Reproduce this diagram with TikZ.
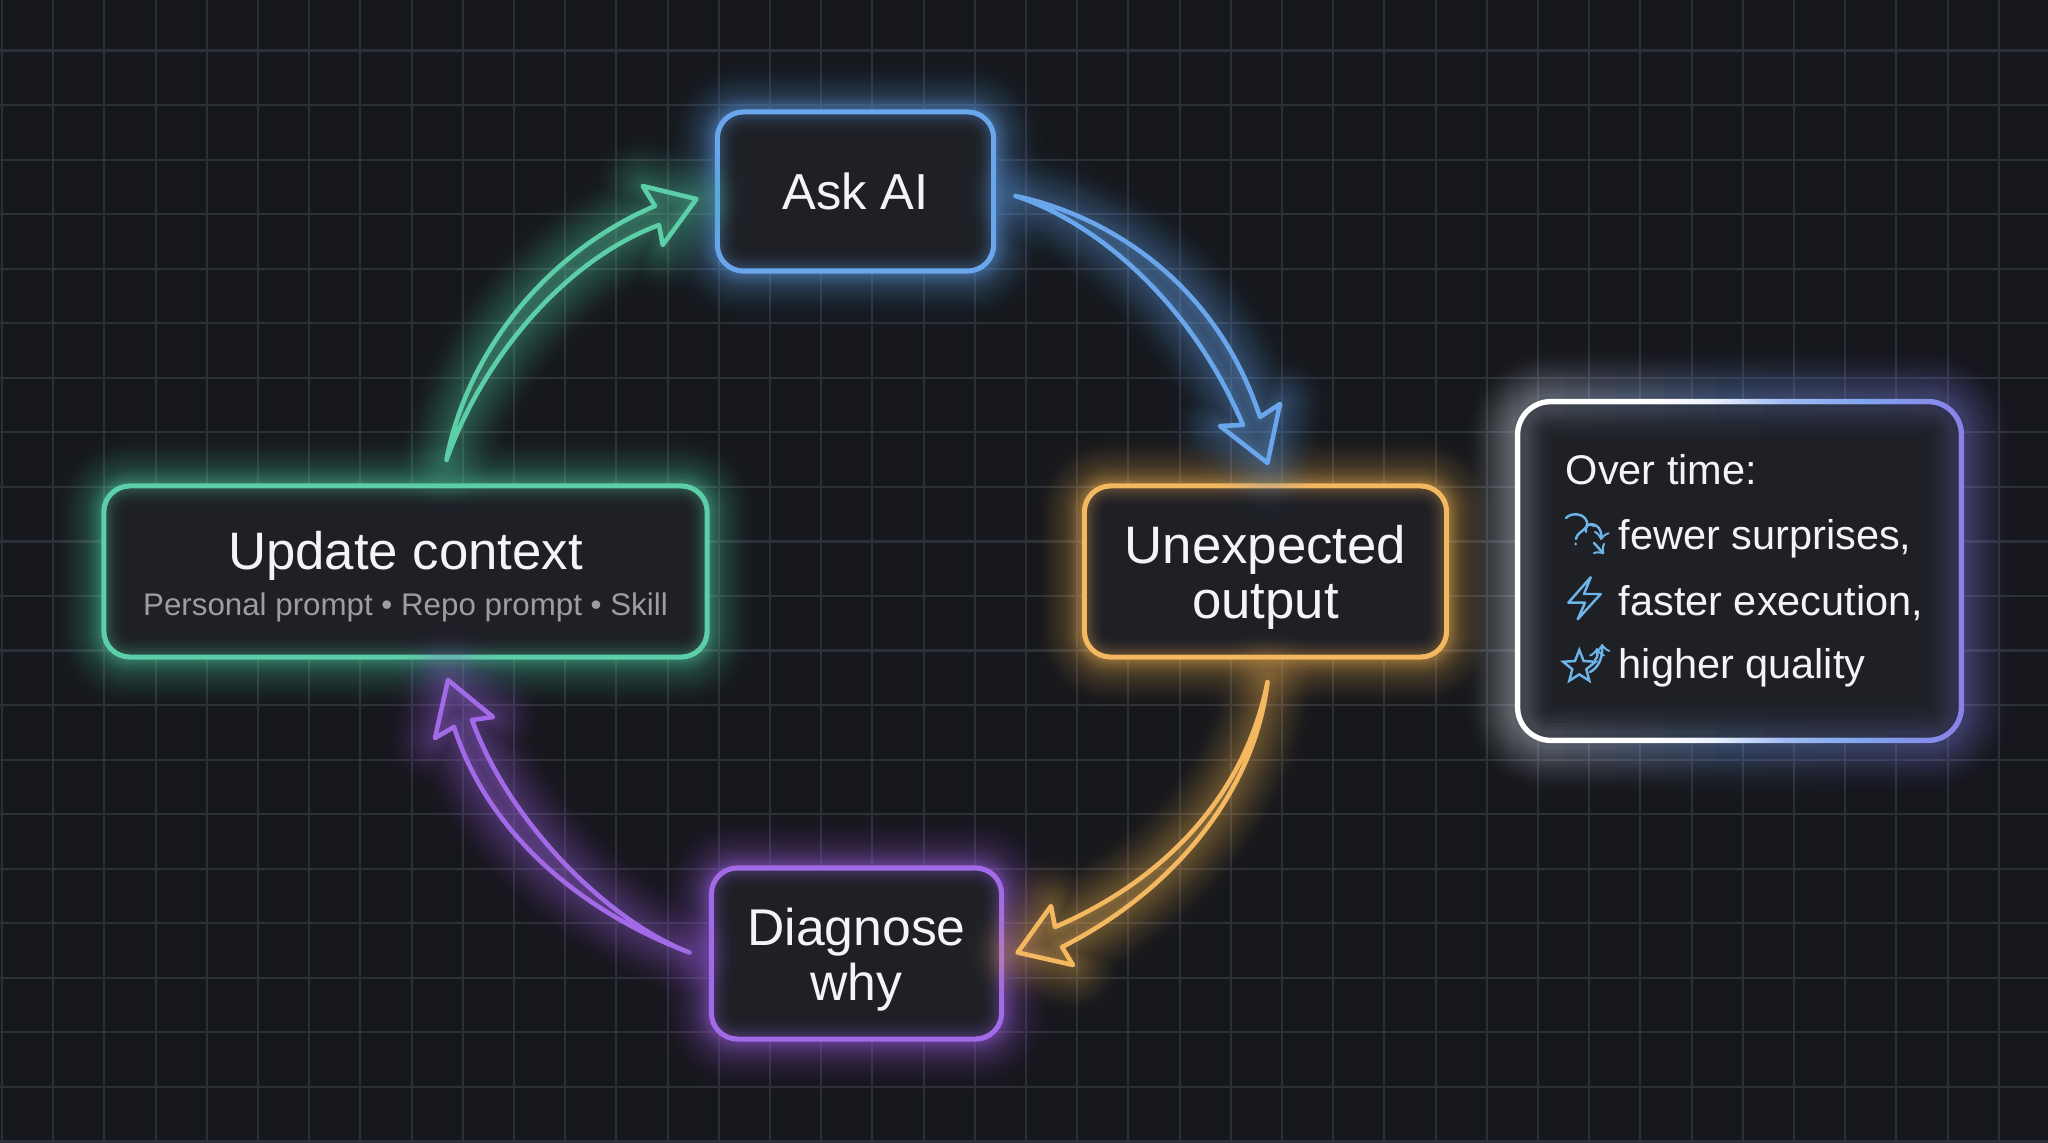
\documentclass[tikz,border=0pt]{standalone}
\usepackage{fontspec}
\setmainfont{Liberation Sans}
\usetikzlibrary{positioning,shapes.geometric}

\definecolor{bgdark}{HTML}{16171C}
\definecolor{gridgrey}{HTML}{2D2F37}
\definecolor{boxfill}{HTML}{1E2026}
\definecolor{textwhite}{HTML}{F3F4F5}
\definecolor{subgrey}{HTML}{9C9EA3}
\definecolor{askblue}{HTML}{69A6EC}
\definecolor{updgreen}{HTML}{5CCFA8}
\definecolor{outorange}{HTML}{F4B860}
\definecolor{whypurple}{HTML}{A36AE8}
\definecolor{iconblue}{HTML}{6DB4E8}
\definecolor{timemid}{HTML}{7FA5EE}
\definecolor{timeend}{HTML}{8A80E8}

\pgfdeclarehorizontalshading{timeborder}{100bp}{
    color(0bp)=(white); color(40bp)=(white);
    color(47bp)=(white!85!timemid); color(55bp)=(white!25!timemid);
    color(64bp)=(timemid); color(75bp)=(timeend); color(100bp)=(timeend)}

\newcommand{\toplift}{\rule{0pt}{14pt}}

\tikzset{
    gridline/.style={draw=gridgrey, line width=.6pt},
    glowout/.style={
        preaction={draw=#1, line width=30pt, draw opacity=.006, line join=round},
        preaction={draw=#1, line width=28pt, draw opacity=.009, line join=round},
        preaction={draw=#1, line width=26pt, draw opacity=.012, line join=round},
        preaction={draw=#1, line width=24pt, draw opacity=.015, line join=round},
        preaction={draw=#1, line width=22.5pt, draw opacity=.018, line join=round},
        preaction={draw=#1, line width=21pt, draw opacity=.02, line join=round},
        preaction={draw=#1, line width=19.5pt, draw opacity=.022, line join=round},
        preaction={draw=#1, line width=18pt, draw opacity=.024, line join=round},
        preaction={draw=#1, line width=16.5pt, draw opacity=.026, line join=round},
        preaction={draw=#1, line width=15pt, draw opacity=.028, line join=round},
        preaction={draw=#1, line width=13.5pt, draw opacity=.03, line join=round},
        preaction={draw=#1, line width=12pt, draw opacity=.03, line join=round},
        preaction={draw=#1, line width=10.5pt, draw opacity=.032, line join=round},
        preaction={draw=#1, line width=9pt, draw opacity=.032, line join=round},
        preaction={draw=#1, line width=7.5pt, draw opacity=.034, line join=round},
        preaction={draw=#1, line width=6pt, draw opacity=.035, line join=round},
        preaction={draw=#1, line width=4.5pt, draw opacity=.04, line join=round},
        preaction={draw=#1, line width=3pt, draw opacity=.045, line join=round}},
    glowin/.style={
        preaction={draw=#1, line width=11pt, draw opacity=.01},
        preaction={draw=#1, line width=10pt, draw opacity=.015},
        preaction={draw=#1, line width=9pt, draw opacity=.02},
        preaction={draw=#1, line width=8pt, draw opacity=.025},
        preaction={draw=#1, line width=7pt, draw opacity=.03},
        preaction={draw=#1, line width=6pt, draw opacity=.035},
        preaction={draw=#1, line width=5pt, draw opacity=.04},
        preaction={draw=#1, line width=4pt, draw opacity=.05},
        preaction={draw=#1, line width=3pt, draw opacity=.06}},
    glowwide/.style={
        preaction={draw=#1, line width=22pt, draw opacity=.008},
        preaction={draw=#1, line width=20pt, draw opacity=.012},
        preaction={draw=#1, line width=18pt, draw opacity=.016},
        preaction={draw=#1, line width=16pt, draw opacity=.02},
        preaction={draw=#1, line width=14pt, draw opacity=.025},
        preaction={draw=#1, line width=12pt, draw opacity=.03},
        preaction={draw=#1, line width=10pt, draw opacity=.035},
        preaction={draw=#1, line width=8pt, draw opacity=.04},
        preaction={draw=#1, line width=6pt, draw opacity=.045}},
    flowbox/.style={glowout=#1, preaction={fill=boxfill}, glowin=#1,
        draw=#1, line width=1.45pt, rounded corners=.26cm,
        text=textwhite, align=center, outer sep=0pt, inner sep=0pt,
        font=\fontsize{15}{15.6}\selectfont},
    flow/.style={glowout=#1, draw=#1, fill=#1, fill opacity=.2, draw opacity=1,
        line width=1.3pt, line join=round},
    timeline/.style={text=textwhite, anchor=base west, inner sep=0pt,
        font=\fontsize{11.8}{13}\selectfont},
    icon/.style={draw=iconblue, line width=.7pt, line join=round, line cap=round},
}

\begin{document}
\begin{tikzpicture}[x=.01cm,y=-.01cm]
    \useasboundingbox (0,0) rectangle (2048,1143);
    \fill[bgdark] (0,0) rectangle (2048,1143);

    % grid
    \foreach \x in {0,...,39}
        \draw[gridline] ({2+51.2*\x},0) -- ({2+51.2*\x},1143);
    \foreach \y in {0,...,20}
        \draw[gridline] (0,{50.5+54.55*\y}) -- (2048,{50.5+54.55*\y});

    % boxes
    \node[flowbox=askblue, minimum width=2.76cm, minimum height=1.59cm, font=\fontsize{14.4}{15.6}\selectfont] (ask) at (855.5,191.5) {Ask AI};
    \node[flowbox=outorange, minimum width=3.62cm, minimum height=1.71cm] (output) at (1265.5,571.5) {\toplift Unexpected\\output};
    \node[flowbox=whypurple, minimum width=2.90cm, minimum height=1.71cm, font=\fontsize{14.7}{15.6}\selectfont] (why) at (856.5,953.5) {\toplift Diagnose\\why};
    \node[flowbox=updgreen, minimum width=6.03cm, minimum height=1.71cm] (update) at (405.5,571.5) {\toplift Update context\\[-2.5pt]{\color{subgrey}\fontsize{8.9}{10}\selectfont Personal prompt • Repo prompt • Skill}};

    % over time box
    \node[minimum width=4.49cm, minimum height=3.44cm, inner sep=0pt, outer sep=0pt] (time) at (1739.5,571) {};
    \foreach \i in {0,...,23} {
        \pgfmathtruncatemacro\mixa{max(0,100-\i*100/11)}
        \pgfmathtruncatemacro\mixb{max(0,min(100,(\i-11)*100/12))}
        \colorlet{stripcol}{white!\mixa!timemid}
        \ifnum\i>11 \colorlet{stripcol}{timeend!\mixb!timemid}\fi
        \begin{scope}
            \clip ({1440+25*\i},330) rectangle ({1465+25*\i},810);
            \path[glowout=stripcol, rounded corners=.36cm] (time.north west) rectangle (time.south east);
        \end{scope}
    }
    \path[shading=timeborder, rounded corners=.36cm] (time.north west) rectangle (time.south east);
    \fill[boxfill, rounded corners=.305cm] ([shift={(5.5,5.5)}]time.north west) rectangle ([shift={(-5.5,-5.5)}]time.south east);
    \foreach \i in {0,...,23} {
        \pgfmathtruncatemacro\mixa{max(0,100-\i*100/11)}
        \pgfmathtruncatemacro\mixb{max(0,min(100,(\i-11)*100/12))}
        \colorlet{stripcol}{white!\mixa!timemid}
        \ifnum\i>11 \colorlet{stripcol}{timeend!\mixb!timemid}\fi
        \begin{scope}
            \clip ({1440+25*\i},330) rectangle ({1465+25*\i},810);
            \clip[rounded corners=.305cm] ([shift={(5.5,5.5)}]time.north west) rectangle ([shift={(-5.5,-5.5)}]time.south east);
            \path[glowwide=stripcol, rounded corners=.33cm] ([shift={(2.5,2.5)}]time.north west) rectangle ([shift={(-2.5,-2.5)}]time.south east);
        \end{scope}
    }

    % arrows
    \coordinate (askTail) at ([shift={(22,4.5)}]ask.east);
    \coordinate (outputTip) at ([shift={(2,-23)}]output.north);
    \draw[flow=askblue] (askTail) .. controls (1105,215) and (1215,280) .. (1260,417)
        -- (1280,404) -- (outputTip) -- (1220,426) -- (1243,425)
        .. controls (1190,300) and (1095,222) .. cycle;

    \coordinate (outputTail) at ([shift={(2,25)}]output.south);
    \coordinate (whyTip) at ([shift={(16,-1)}]why.east);
    \draw[flow=outorange] (outputTail) .. controls (1255,790) and (1175,890) .. (1062,947)
        -- (1073,965) -- (whyTip) -- (1051,906) -- (1055,927)
        .. controls (1165,880) and (1245,795) .. cycle;

    \coordinate (whyTail) at ([shift={(-22,-1)}]why.west);
    \coordinate (updateTip) at ([shift={(42.5,23)}]update.south);
    \draw[flow=whypurple] (whyTail) .. controls (610,922) and (510,825) .. (472,720)
        -- (493,717) -- (updateTip) -- (435,738) -- (454,727)
        .. controls (490,840) and (590,915) .. cycle;

    \coordinate (updateTail) at ([shift={(41,-26)}]update.north);
    \coordinate (askTip) at ([shift={(-21,7.5)}]ask.west);
    \draw[flow=updgreen] (updateTail) .. controls (465,360) and (540,255) .. (655,206)
        -- (642.7,186) -- (askTip) -- (662.7,245) -- (659,225)
        .. controls (560,262) and (480,365) .. cycle;

    % over time text
    \node[timeline] (overLabel) at (1565,485) {Over time:};
    \node[timeline] (fewerLabel) at (1618,550) {fewer surprises,};
    \node[timeline] (fasterLabel) at (1618,615) {faster execution,};
    \node[timeline] (higherLabel) at (1618,679) {higher quality};

    % icons
    \draw[icon] (1566,518) .. controls (1570,513) and (1584,512) .. (1587,522)
        .. controls (1589,530) and (1577,531) .. (1576,539);
    \fill[iconblue] (1575.5,544) circle (1.5);
    \draw[icon] (1586,532) .. controls (1584,526) and (1590,522) .. (1594,526);
    \draw[icon, ->, >=to] (1590,524) .. controls (1598,524) and (1602,530) .. (1601,540);
    \draw[icon, ->, >=to] (1594,543) -- (1604,554);

    \draw[icon] (1590.7,577.3) -- (1568.3,602.7) -- (1585,602.7) -- (1577.7,619.3)
        -- (1600.7,594) -- (1584,594) -- cycle;

    \node[star, star points=5, star point ratio=2.3, draw=iconblue, line width=.7pt,
        minimum size=.34cm, inner sep=0pt] (starIcon) at (1579.3,667) {};
    \draw[icon, ->, >=to] (1590,672) .. controls (1598,668) and (1603,658) .. (1602,644);
    \draw[icon, ->, >=to] (1595,660) .. controls (1599,656) and (1597,652) .. (1597,648);
\end{tikzpicture}
\end{document}
